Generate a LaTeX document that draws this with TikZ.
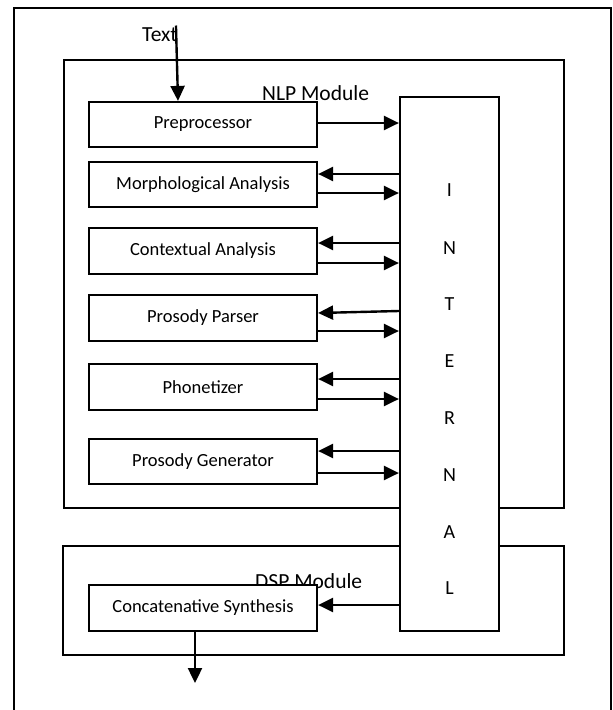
\documentclass[tikz,border=0pt]{standalone}
\usepackage{fontspec}
\setmainfont{Carlito}
\usetikzlibrary{arrows.meta,calc}
\tikzset{
  frame/.style={draw, line width=2pt},
  modbox/.style={draw, line width=2.2pt},
  procbox/.style={draw, line width=2.2pt, fill=white, minimum width=228pt, minimum height=45pt, inner sep=0pt, font=\fontsize{18.5}{22}\selectfont},
  intbox/.style={draw, line width=2.2pt, fill=white, minimum width=99pt, minimum height=534pt, inner sep=0pt},
  lbl/.style={inner sep=0pt, anchor=base west, font=\fontsize{21.5}{25}\selectfont},
  letter/.style={inner sep=0pt, font=\fontsize{20}{24}\selectfont},
  arr/.style={line width=2.4pt, -{Triangle[length=15pt,width=14pt]}}
}
\begin{document}
\begin{tikzpicture}[x=1pt,y=-1pt]
\useasboundingbox (0,0) rectangle (613,710);
\clip (0,0) rectangle (613,710);
% outer frame (bottom edge lies outside the picture)
\draw[frame] (14,730) -- (14,8) -- (611,8) -- (611,730);
% modules
\node[modbox, minimum width=500pt, minimum height=448pt, inner sep=0pt] (nlp) at (314,284) {};
\node[modbox, minimum width=501pt, minimum height=109pt, inner sep=0pt] (dsp) at (313.5,600.5) {};
\node[lbl] (nlpl) at (262,100) {NLP Module};
\node[lbl] (dspl) at (255,588) {DSP Module};
\node[lbl] (txt) at (142,41.5) {Text};
% process boxes
\node[procbox] (pre) at (203,124.5) {Preprocessor};
\node[procbox] (mor) at (203,184.5) {Morphological Analysis};
\node[procbox, minimum height=46pt] (con) at (203,251) {Contextual Analysis};
\node[procbox, minimum height=46pt] (par) at (203,318) {Prosody Parser};
\node[procbox, minimum height=46pt] (pho) at (203,387) {Phonetizer};
\node[procbox] (gen) at (203,461.5) {Prosody Generator};
\node[procbox, minimum height=46pt] (cat) at (203,608) {Concatenative Synthesis};
% internal box
\node[intbox] (int) at (449.5,364) {};
\node[letter] (l1) at (449.5,190) {I};
\node[letter] (l2) at (449.5,248) {N};
\node[letter] (l3) at (449.5,304) {T};
\node[letter] (l4) at (449.5,361) {E};
\node[letter] (l5) at (449.5,418) {R};
\node[letter] (l6) at (449.5,475) {N};
\node[letter] (l7) at (449.5,532) {A};
\node[letter] (l8) at (449.5,588) {L};
% input arrow
\draw[arr] ([xshift=16pt,yshift=2pt]txt.north) -- ([xshift=-25pt]pre.north);
% arrows between boxes and INTERNAL
\draw[arr] ([yshift=1.5pt]pre.east) -- ([yshift=1.5pt]pre.east -| int.west);
\draw[arr] ([yshift=10.5pt]mor.east -| int.west) -- ([yshift=10.5pt]mor.east);
\draw[arr] ([yshift=-8.5pt]mor.east) -- ([yshift=-8.5pt]mor.east -| int.west);
\draw[arr] ([yshift=8pt]con.east -| int.west) -- ([yshift=8pt]con.east);
\draw[arr] ([yshift=-12pt]con.east) -- ([yshift=-12pt]con.east -| int.west);
\draw[arr] ([yshift=7pt]par.east -| int.west) -- ([yshift=5pt]par.east);
\draw[arr] ([yshift=-13pt]par.east) -- ([yshift=-13pt]par.east -| int.west);
\draw[arr] ([yshift=8pt]pho.east -| int.west) -- ([yshift=8pt]pho.east);
\draw[arr] ([yshift=-12pt]pho.east) -- ([yshift=-12pt]pho.east -| int.west);
\draw[arr] ([yshift=10.5pt]gen.east -| int.west) -- ([yshift=10.5pt]gen.east);
\draw[arr] ([yshift=-11.5pt]gen.east) -- ([yshift=-11.5pt]gen.east -| int.west);
\draw[arr] ([yshift=3pt]cat.east -| int.west) -- ([yshift=3pt]cat.east);
% output arrow
\coordinate (out) at (195,683);
\draw[arr] ([xshift=-8pt]cat.south) -- (out);
\end{tikzpicture}
\end{document}
